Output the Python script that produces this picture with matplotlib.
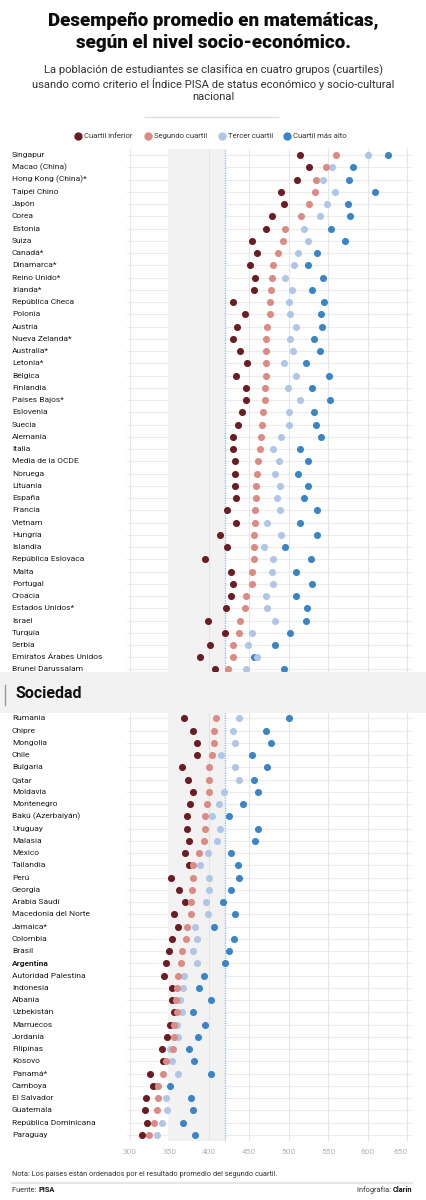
import numpy as np
import matplotlib.pyplot as plt
from matplotlib.patches import Rectangle
from matplotlib.lines import Line2D
from matplotlib import transforms

# Datos: puntaje promedio en matemáticas por cuartil socio-económico (PISA)
countries = [
    "Singapur", "Macao (China)", "Hong Kong (China)*", "Taipéi Chino", "Japón",
    "Corea", "Estonia", "Suiza", "Canadá*", "Dinamarca*", "Reino Unido*",
    "Irlanda*", "República Checa", "Polonia", "Austria", "Nueva Zelanda*",
    "Australia*", "Letonia*", "Bélgica", "Finlandia", "Países Bajos*",
    "Eslovenia", "Suecia", "Alemania", "Italia", "Media de la OCDE", "Noruega",
    "Lituania", "España", "Francia", "Vietnam", "Hungría", "Islandia",
    "República Eslovaca", "Malta", "Portugal", "Croacia", "Estados Unidos*",
    "Israel", "Turquía", "Serbia", "Emiratos Árabes Unidos", "Brunei Darussalam",
    "", "", "",  # filas tapadas por la barra "Sociedad"
    "Rumania", "Chipre", "Mongolia", "Chile", "Bulgaria", "Qatar", "Moldavia",
    "Montenegro", "Bakú (Azerbaiyán)", "Uruguay", "Malasia", "México",
    "Tailandia", "Perú", "Georgia", "Arabia Saudí", "Macedonia del Norte",
    "Jamaica*", "Colombia", "Brasil", "Argentina", "Autoridad Palestina",
    "Indonesia", "Albania", "Uzbekistán", "Marruecos", "Jordania", "Filipinas",
    "Kosovo", "Panamá*", "Camboya", "El Salvador", "Guatemala",
    "República Dominicana", "Paraguay",
]

nan = np.nan
q1 = [515, 526, 511, 491, 494, 479, 472, 454, 460, 451, 458, 457, 430, 445,
      435, 430, 439, 448, 434, 446, 446, 441, 436, 430, 430, 432, 432, 433,
      434, 422, 434, 414, 422, 395, 427, 430, 427, 421, 398, 420, 401, 388, 407,
      nan, nan, nan,
      368, 380, 385, 385, 366, 373, 380, 376, 372, 372, 375, 370, 375, 352,
      362, 370, 356, 361, 353, 349, 346, 343, 353, 353, 356, 351, 347, 340,
      342, 325, 329, 320, 319, 322, 315]
q2 = [560, 547, 535, 533, 526, 516, 496, 493, 487, 480, 479, 478, 477, 477,
      473, 472, 471, 471, 471, 470, 470, 468, 467, 465, 464, 462, 460, 459,
      459, 458, 458, 456, 456, 456, 454, 454, 446, 445, 439, 438, 430, 430, 423,
      nan, nan, nan,
      408, 406, 406, 403, 400, 400, 400, 397, 395, 395, 393, 387, 380, 380,
      378, 377, 377, 372, 371, 365, 364, 361, 359, 358, 359, 356, 356, 354,
      346, 341, 335, 335, 334, 330, 324]
q3 = [600, 555, 543, 559, 549, 540, 520, 524, 512, 507, 496, 505, 500, 502,
      510, 502, 506, 494, 509, 499, 515, 500, 500, 491, 480, 488, 483, 489,
      485, 489, 473, 491, 469, 481, 479, 480, 471, 473, 483, 454, 449, 460, 446,
      nan, nan, nan,
      438, 430, 432, 415, 432, 438, 419, 412, 403, 413, 410, 398, 388, 400,
      400, 396, 398, 382, 385, 380, 385, 368, 367, 363, 365, 359, 361, 351,
      353, 360, 333, 345, 347, 340, 334]
q4 = [626, 581, 576, 609, 575, 577, 553, 571, 536, 525, 544, 530, 545, 541,
      542, 532, 540, 522, 551, 529, 552, 532, 535, 541, 515, 525, 512, 525,
      520, 536, 514, 536, 495, 528, 510, 529, 509, 523, 522, 502, 483, 456, 494,
      nan, nan, nan,
      501, 471, 478, 454, 473, 456, 461, 443, 425, 462, 458, 428, 436, 438,
      428, 417, 432, 406, 431, 425, 420, 393, 387, 402, 379, 394, 386, 375,
      381, 402, 351, 377, 380, 367, 382]

series_labels = ["Cuartil inferior", "Segundo cuartil", "Tercer cuartil",
                 "Cuartil más alto"]
series_colors = ["#6b1d24", "#db8a84", "#afc6e6", "#3a85c6"]
x_ticks = [300, 350, 400, 450, 500, 550, 600, 650]

W, H = 427, 1200
def fx(px):
    return px / W
def fy(py):
    return 1 - py / H

FONT = "Roboto"
plt.rcParams["font.family"] = [FONT, "DejaVu Sans"]

fig = plt.figure(figsize=(W / 100, H / 100), dpi=100)
fig.patch.set_facecolor("white")

n = len(countries)
ax_top, ax_bot = 149, 1141
ax = fig.add_axes([fx(127), fy(ax_bot), fx(411.7) - fx(127), (ax_bot - ax_top) / H])
ax.set_xlim(296.2, 655.4)
ax.set_ylim(n - 0.5, -0.5)
for s in ax.spines.values():
    s.set_visible(False)

rows = np.arange(n)
# grilla
for r in rows:
    ax.axhline(r, color="#ececec", lw=0.8, zorder=0)
for t in x_ticks:
    ax.axvline(t, color="#e6e6e6", lw=0.8, zorder=0)
ax.axvspan(347.6, 420, color="#f2f2f2", lw=0, zorder=0.5)
ax.axvline(400, color="#e3e3e3", lw=0.8, zorder=0.6)
ax.axvline(420, color="#8fb2da", lw=0.9, ls=(0, (1, 1)), zorder=0.7)

# puntos
order = [3, 2, 0, 1]
data = [q1, q2, q3, q4]
for k, i in enumerate(order):
    ax.scatter(data[i], rows, s=26, color=series_colors[i], lw=0, zorder=2 + k)

ax.set_xticks(x_ticks)
ax.set_xticklabels([str(t) for t in x_ticks], color="#b3b3b3", fontsize=6)
ax.get_xticklabels()[-1].set_ha("right")
ax.tick_params(axis="x", length=0, pad=6)
ax.set_yticks([])

# etiquetas de países
lab_tr = transforms.blended_transform_factory(fig.transFigure, ax.transData)
for r, c in enumerate(countries):
    ax.text(fx(12), r, c, transform=lab_tr, ha="left", va="center",
            fontsize=6, color="#1e1e1e",
            fontweight="bold" if c == "Argentina" else "normal", clip_on=False)

# título y bajada
for yy, line in [(21, "Desempeño promedio en matemáticas,"),
                 (43, "según el nivel socio-económico.")]:
    fig.text(0.5, fy(yy), line, ha="center", va="center", fontsize=13.5,
             fontweight=900, color="#0d0d0d")
subtitle = ["La población de estudiantes se clasifica en cuatro grupos (cuartiles)",
            "usando como criterio el Índice PISA de status económico y socio-cultural",
            "nacional"]
for j, line in enumerate(subtitle):
    fig.text(0.5, fy(70 + 13.5 * j), line, ha="center", va="center",
             fontsize=8.1, color="#333333")
fig.add_artist(Line2D([fx(145), fx(278)], [fy(117), fy(117)], color="#dddddd",
                      lw=1, transform=fig.transFigure))

# leyenda
leg_x = [78, 148, 222, 287]
for x0, lab, col in zip(leg_x, series_labels, series_colors):
    fig.add_artist(Line2D([fx(x0)], [fy(136)], marker="o", ms=5, color=col,
                          lw=0, transform=fig.transFigure))
    fig.text(fx(x0 + 6), fy(136), lab, ha="left", va="center", fontsize=5.5,
             color="#333333")

# barra "Sociedad" que tapa parte del gráfico
fig.add_artist(Rectangle((0, fy(713)), 1, (713 - 672) / H, transform=fig.transFigure,
                         facecolor="#f2f2f2", edgecolor="none", zorder=10))
fig.add_artist(Line2D([fx(5.5), fx(5.5)], [fy(685), fy(705)], color="#9a9a9a",
                      lw=1, transform=fig.transFigure, zorder=11))
fig.text(fx(16), fy(694), "Sociedad", ha="left", va="center", fontsize=11.5,
         fontweight="bold", color="#111111", zorder=11)

# pie
fig.text(fx(12), fy(1175), "Nota: Los países están ordenados por el resultado "
         "promedio del segundo cuartil.", ha="left", va="center", fontsize=5.3,
         color="#333333")
fig.add_artist(Line2D([fx(12), fx(412)], [fy(1183), fy(1183)], color="#e6e6e6",
                      lw=1.5, transform=fig.transFigure))
t1 = fig.text(fx(12), fy(1190), "Fuente: ", ha="left", va="center", fontsize=5.3,
              color="#333333")
ax.annotate("PISA", xy=(1, 0), xycoords=t1, ha="left", va="bottom",
            fontsize=5.3, fontweight="bold", color="#111111", annotation_clip=False)
t2 = fig.text(fx(412), fy(1190), "Clarín", ha="right", va="center", fontsize=5.3,
              fontweight="bold", color="#111111")
ax.annotate("Infografía: ", xy=(0, 0), xycoords=t2, ha="right", va="bottom",
            fontsize=5.3, color="#333333", annotation_clip=False)

fig.savefig("out.png", dpi=100)
